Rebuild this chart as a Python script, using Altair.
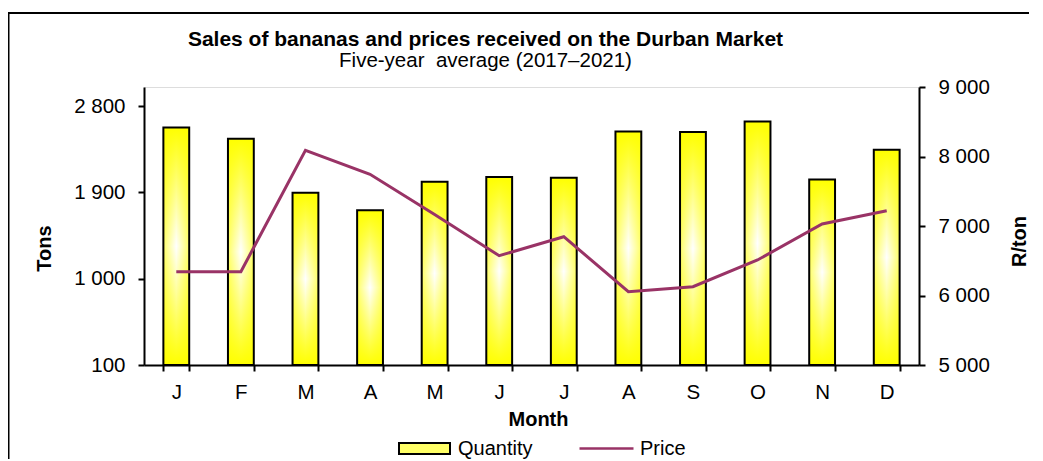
import altair as alt
import pandas as pd

# ---- data ----
month_keys = ["Jan", "Feb", "Mar", "Apr", "May", "Jun",
              "Jul", "Aug", "Sep", "Oct", "Nov", "Dec"]
month_labels = ["J", "F", "M", "A", "M", "J", "J", "A", "S", "O", "N", "D"]
quantity = [2578, 2460, 1896, 1715, 2011, 2060, 2053, 2536, 2530, 2641, 2035, 2345]
price = [6342, 6342, 8089, 7744, 7164, 6573, 6846, 6055, 6127, 6511, 7029, 7220]
tons_ticks = [100, 1000, 1900, 2800]
price_ticks = [5000, 6000, 7000, 8000, 9000]

df = pd.DataFrame({"month": month_keys, "quantity": quantity, "price": price})

FONT = "Liberation Sans, Arial, sans-serif"
W, H = 775, 278

label_map = "{" + ",".join(f"'{k}':'{v}'" for k, v in zip(month_keys, month_labels)) + "}"
space_fmt = "replace(format(datum.value, ','), ',', ' ')"

axis_common = dict(
    labelFont=FONT, labelFontSize=20.5, labelColor="black",
    titleFont=FONT, titleFontSize=20, titleFontWeight="bold", titleColor="black",
    domainColor="black", domainWidth=2, tickColor="black", tickWidth=2,
    tickSize=6, grid=False,
)

x_enc = alt.X(
    "month:N", sort=month_keys,
    scale=alt.Scale(paddingInner=0.6, paddingOuter=0.3),
    axis=alt.Axis(
        title="Month", labelExpr=f"{label_map}[datum.value]", labelAngle=0,
        tickBand="extent", labelPadding=11, titleX=394, titleY=60,
        titleBaseline="alphabetic", titleAlign="center", **axis_common,
    ),
)

y_left = alt.Y(
    "quantity:Q",
    scale=alt.Scale(domain=[100, 3000], nice=False, zero=False),
    axis=alt.Axis(
        title="Tons", values=tons_ticks, labelExpr=space_fmt, labelPadding=13,
        titleAngle=270, titleX=-100, titleY=161, titleBaseline="middle",
        titleAlign="center", **axis_common,
    ),
)

vgrad = {
    "gradient": "linear", "x1": 0, "y1": 0, "x2": 0, "y2": 1,
    "stops": [
        {"offset": 0, "color": "#ffff00"},
        {"offset": 0.5, "color": "#ffffff"},
        {"offset": 1, "color": "#ffff00"},
    ],
}
hgrad = {
    "gradient": "linear", "x1": 0, "y1": 0, "x2": 1, "y2": 0,
    "stops": [
        {"offset": 0, "color": "rgba(255,255,0,0.6)"},
        {"offset": 0.5, "color": "rgba(255,255,0,0)"},
        {"offset": 1, "color": "rgba(255,255,0,0.6)"},
    ],
}

base = alt.Chart(df)

bars_fill = base.mark_bar(fill=vgrad, strokeWidth=0).encode(
    x=x_enc, y=y_left, y2=alt.datum(100)
)
bars_edge = base.mark_bar(fill=hgrad, stroke="black", strokeWidth=2).encode(
    x=x_enc, y=y_left, y2=alt.datum(100)
)
bars_legend = (
    base.transform_calculate(series="'Quantity'")
    .transform_filter("false")
    .mark_bar()
    .encode(
        x=x_enc, y=y_left, y2=alt.datum(100),
        fill=alt.Fill(
            "series:N",
            scale=alt.Scale(domain=["Quantity"], range=["#ffff66"]),
            legend=alt.Legend(
                title=None, orient="none", legendX=254, legendY=335,
                symbolType="M-1,-0.22H1V0.22H-1Z", symbolSize=2601,
                symbolStrokeColor="black", symbolStrokeWidth=2,
                symbolOpacity=1,
                labelFont=FONT, labelFontSize=20, labelColor="black",
                labelOffset=7, padding=0,
            ),
        ),
    )
)

bars = alt.layer(bars_fill, bars_edge, bars_legend)

line = (
    base.transform_calculate(series="'Price'")
    .mark_line(strokeWidth=3)
    .encode(
        x=x_enc,
        y=alt.Y(
            "price:Q",
            scale=alt.Scale(domain=[5000, 9000], nice=False, zero=False),
            axis=alt.Axis(
                orient="right", title="R/ton", values=price_ticks,
                labelExpr=space_fmt, labelPadding=13,
                titleAngle=270, titleX=100, titleY=154, titleBaseline="middle",
                titleAlign="center", **axis_common,
            ),
        ),
        color=alt.Color(
            "series:N",
            scale=alt.Scale(domain=["Price"], range=["#993366"]),
            legend=alt.Legend(
                title=None, orient="none", legendX=434, legendY=333,
                symbolType="stroke", symbolSize=2916, symbolStrokeWidth=2.5,
                labelFont=FONT, labelFontSize=20, labelColor="black",
                labelOffset=5, padding=0,
            ),
        ),
    )
)

frame = alt.Chart(alt.Data(values=[{"a": 1}])).mark_rect(
    fill="transparent", stroke="black", strokeWidth=2, clip=False
).encode(
    x=alt.value(-135.5), x2=alt.value(1200),
    y=alt.value(-74), y2=alt.value(700),
)

chart = (
    alt.layer(frame, bars, line)
    .resolve_scale(y="independent", fill="independent", color="independent")
    .properties(
        width=W, height=H,
        autosize=alt.AutoSizeParams(type="none"),
        padding={"left": 136, "top": 79, "right": 110, "bottom": 94},
        title=alt.TitleParams(
            text="Sales of bananas and prices received on the Durban Market",
            subtitle="Five-year\u00a0\u00a0average (2017\u20132021)",
            font=FONT, fontSize=21, fontWeight="bold", color="black",
            subtitleFont=FONT, subtitleFontSize=20.5, subtitleColor="black",
            anchor="middle", dx=-46, offset=-59, subtitlePadding=1,
        ),
    )
    .configure_view(stroke="black", strokeWidth=2)
    .configure(background="white")
)

chart.save("out.html", embed_options={"renderer": "svg", "actions": False})
